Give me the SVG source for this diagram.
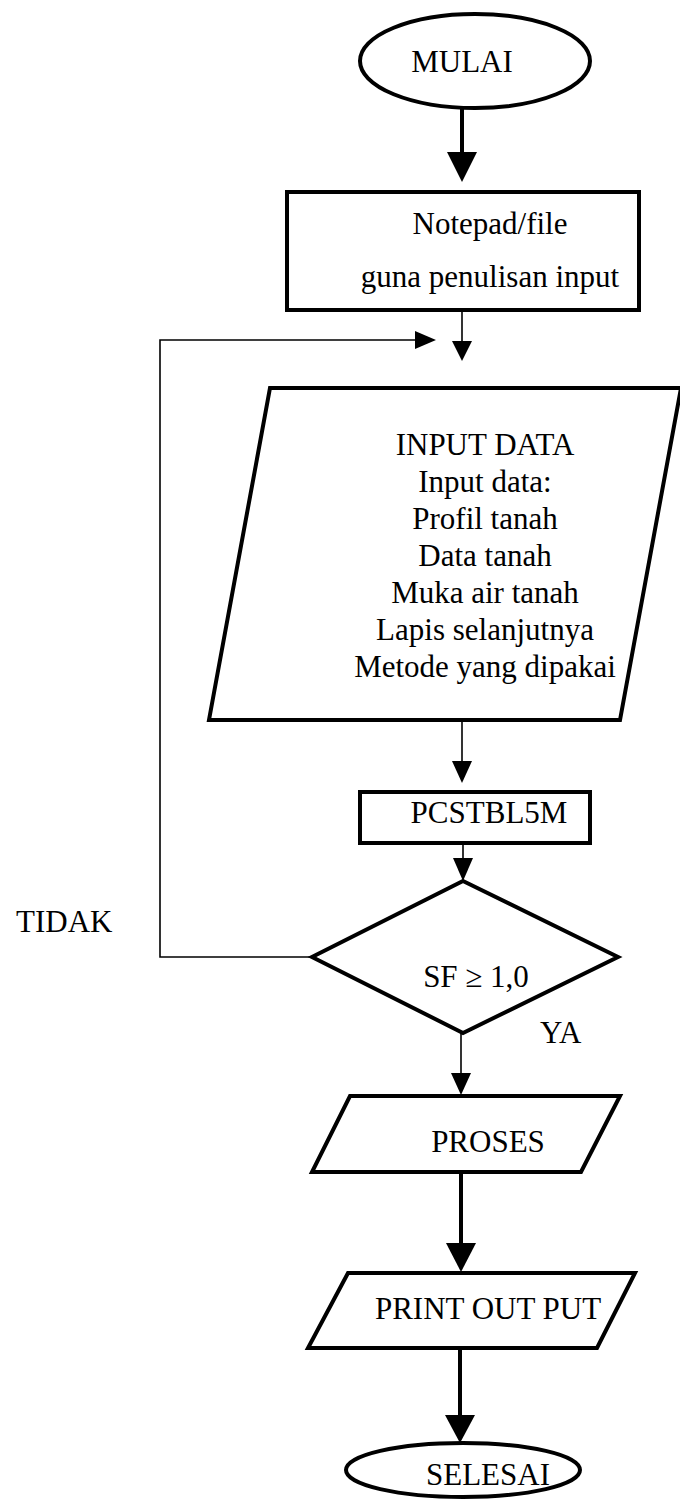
<svg xmlns="http://www.w3.org/2000/svg" width="680" height="1499" viewBox="0 0 680 1499">
  <style>
    .shape { fill: #ffffff; stroke: #000000; stroke-width: 4; stroke-linejoin: miter; }
    .thin { fill: none; stroke: #000000; stroke-width: 1.6; }
    .thick { fill: none; stroke: #000000; stroke-width: 4; }
    .head { fill: #000000; stroke: none; }
    text { font-family: "Liberation Serif", "Times New Roman", serif; font-size: 31px; fill: #000000; }
    .c { text-anchor: middle; }
  </style>
  <rect x="0" y="0" width="680" height="1499" fill="#ffffff"/>

  <!-- connectors -->
  <g id="connectors">
    <!-- start -> notepad (thick) -->
    <line class="thick" x1="462" y1="108" x2="462" y2="156"/>
    <polygon class="head" points="447,152 477,152 462,182"/>
    <!-- notepad -> input -->
    <line class="thin" x1="462" y1="310" x2="462" y2="345"/>
    <polygon class="head" points="452,341 472,341 462,361"/>
    <!-- loop back from decision (TIDAK) -->
    <polyline class="thin" points="312,957 160,957 160,340 418,340"/>
    <polygon class="head" points="415,331 415,349 436,340"/>
    <!-- input -> PCSTBL5M -->
    <line class="thin" x1="462" y1="720" x2="462" y2="765"/>
    <polygon class="head" points="452,761 472,761 462,783"/>
    <!-- PCSTBL5M -> decision -->
    <line class="thin" x1="463" y1="843" x2="463" y2="862"/>
    <polygon class="head" points="453,858 473,858 463,881"/>
    <!-- decision -> proses (YA) -->
    <line class="thin" x1="461" y1="1033" x2="461" y2="1077"/>
    <polygon class="head" points="451,1073 471,1073 461,1095"/>
    <!-- proses -> print (thick) -->
    <line class="thick" x1="461" y1="1172" x2="461" y2="1247"/>
    <polygon class="head" points="446,1243 476,1243 461,1272"/>
    <!-- print -> selesai (thick) -->
    <line class="thick" x1="460" y1="1348" x2="460" y2="1419"/>
    <polygon class="head" points="445,1415 475,1415 460,1443"/>
  </g>

  <g id="mulai">
    <ellipse class="shape" cx="475" cy="61" rx="115" ry="47"/>
    <text class="c" x="462" y="72">MULAI</text>
  </g>

  <g id="notepad">
    <rect class="shape" x="287" y="192" width="352" height="118"/>
    <text class="c" x="490" y="234">Notepad/file</text>
    <text class="c" x="490" y="287">guna penulisan input</text>
  </g>

  <g id="input-data">
    <polygon class="shape" points="270,388 681,388 620,720 209,720"/>
    <text class="c" x="485" y="455">INPUT DATA</text>
    <text class="c" x="485" y="492">Input data:</text>
    <text class="c" x="485" y="529">Profil tanah</text>
    <text class="c" x="485" y="566">Data tanah</text>
    <text class="c" x="485" y="603">Muka air tanah</text>
    <text class="c" x="485" y="640">Lapis selanjutnya</text>
    <text class="c" x="485" y="677">Metode yang dipakai</text>
  </g>

  <g id="pcstbl5m">
    <rect class="shape" x="360" y="792" width="230" height="51"/>
    <text class="c" x="489" y="823">PCSTBL5M</text>
  </g>

  <g id="decision">
    <polygon class="shape" points="463,881 618,957 463,1033 312,957"/>
    <text class="c" x="476" y="987">SF ≥ 1,0</text>
  </g>

  <g id="labels">
    <text x="16" y="932">TIDAK</text>
    <text x="540" y="1043">YA</text>
  </g>

  <g id="proses">
    <polygon class="shape" points="350,1096 620,1096 581,1172 312,1172"/>
    <text class="c" x="488" y="1152">PROSES</text>
  </g>

  <g id="print-out">
    <polygon class="shape" points="348,1273 635,1273 597,1348 308,1348"/>
    <text class="c" x="488" y="1319">PRINT OUT PUT</text>
  </g>

  <g id="selesai">
    <ellipse class="shape" cx="463" cy="1470" rx="117" ry="27"/>
    <text class="c" x="488" y="1485">SELESAI</text>
  </g>
</svg>
